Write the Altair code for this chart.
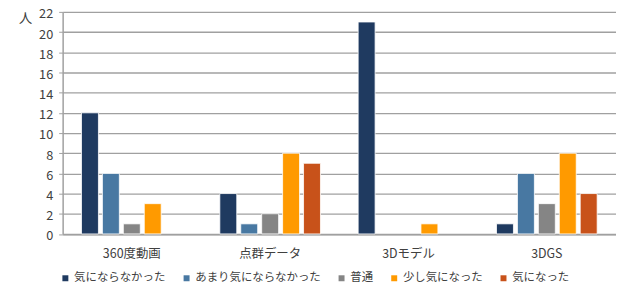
import altair as alt
import pandas as pd

categories = ["360度動画", "点群データ", "3Dモデル", "3DGS"]
series = ["気にならなかった", "あまり気にならなかった", "普通", "少し気になった", "気になった"]
colors = ["#1f3a60", "#4878a2", "#858585", "#ff9a00", "#c8521a"]
values = {
    "気にならなかった": [12, 4, 21, 1],
    "あまり気にならなかった": [6, 1, 0, 6],
    "普通": [1, 2, 0, 3],
    "少し気になった": [3, 8, 1, 8],
    "気になった": [0, 7, 0, 4],
}
y_ticks = list(range(0, 23, 2))

rows = []
for s in series:
    for c, v in zip(categories, values[s]):
        rows.append({"category": c, "series": s, "value": v})
df = pd.DataFrame(rows)

FONT = "Noto Sans CJK JP"
TXT = "#404040"
GRID = "#a0a0a0"

chart = alt.Chart(df).transform_filter(alt.datum.value > 0).mark_bar(
    stroke="white", strokeWidth=0.8
).encode(
    x=alt.X("category:N", sort=categories,
            scale=alt.Scale(domain=categories, paddingInner=0, paddingOuter=0),
            axis=alt.Axis(title=None, labelAngle=0, ticks=False, domainColor=GRID,
                          domainWidth=1.5, labelFont=FONT, labelFontSize=12.5,
                          labelColor=TXT, labelPadding=14)),
    xOffset=alt.XOffset("series:N", sort=series,
                        scale=alt.Scale(domain=series, paddingInner=0.19, paddingOuter=0.9)),
    y=alt.Y("value:Q", scale=alt.Scale(domain=[0, 22], nice=False),
            axis=alt.Axis(values=y_ticks, title="人", titleAngle=0, titleX=-38, titleY=6.5,
                          titleAlign="center", titleBaseline="middle", titleFont=FONT,
                          titleFontSize=13.5, titleFontWeight="normal", titleColor=TXT,
                          labelFont=FONT, labelFontSize=12.8, labelColor=TXT, labelOffset=2,
                          tickSize=4, tickColor=GRID, domainColor=GRID,
                          domainWidth=1.5, gridColor=GRID, gridWidth=1.3,
                          labelPadding=6)),
    color=alt.Color("series:N", sort=series,
                    scale=alt.Scale(domain=series, range=colors),
                    legend=alt.Legend(title=None, orient="none", direction="horizontal",
                                      legendX=-3, legendY=262, symbolType="square",
                                      symbolSize=36, symbolStrokeWidth=0,
                                      labelFont=FONT, labelFontSize=11.5, labelColor=TXT,
                                      columnPadding=15, labelOffset=3, symbolOffset=0)),
).properties(
    width=557, height=223.5,
    autosize=alt.AutoSizeParams(type="none"),
    padding={"left": 55, "top": 3, "right": 0, "bottom": 53},
).configure_view(stroke=None)

chart.save("out.html", embed_options={"renderer": "svg", "actions": False})
